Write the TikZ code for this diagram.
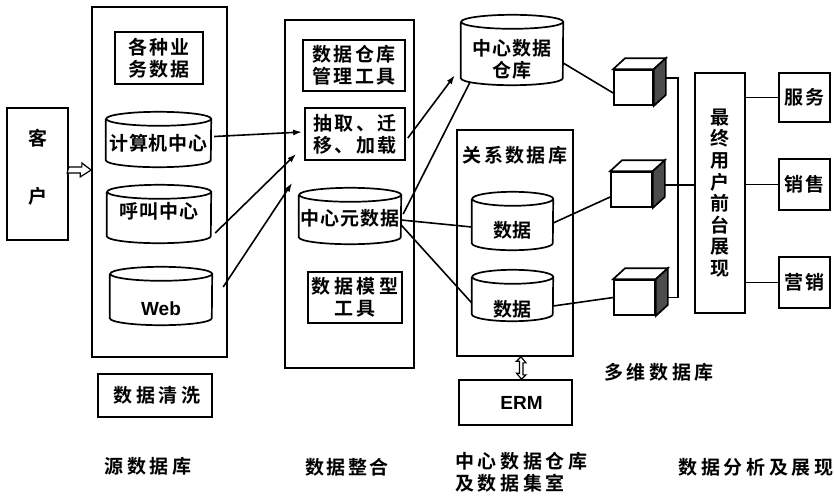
\documentclass[tikz,border=0pt]{standalone}
\usepackage{fontspec}
\newfontfamily\heiA{Noto Sans CJK SC Bold}[LetterSpace=5]
\newfontfamily\heiB{Noto Sans CJK SC Bold}[LetterSpace=13]
\newfontfamily\heiC{Noto Sans CJK SC Bold}[LetterSpace=19]
\newfontfamily\lat{Liberation Sans}
\usetikzlibrary{arrows.meta,calc}

\tikzset{
  every node/.style={font=\heiA\fontsize{19}{22}\selectfont, inner sep=0pt},
  wideA/.style={font=\heiA\fontsize{19}{22}\selectfont},
  wideB/.style={font=\heiB\fontsize{19}{22}\selectfont},
  wideC/.style={font=\heiC\fontsize{19}{22}\selectfont},
  frame/.style={draw, line width=1.7pt},
  box/.style={frame, align=center},
  conn/.style={line width=1.6pt},
  arr/.style={conn, -{Latex[length=9pt,width=6pt]}},
  blockarrow/.style={draw, line width=1.2pt, fill=white, line join=miter},
}

% database drawn as a cylinder: name, cx, cy, width, height, text, text y
\newcommand\dbcyl[7]{%
  \path (#2,#3) node[minimum width=#4pt, minimum height=#5pt] (#1) {};
  \draw[frame, fill=white] ([yshift=-7pt]#1.north west) -- ([yshift=7pt]#1.south west)
     arc[start angle=180, end angle=360, x radius=#4pt/2, y radius=7pt]
     -- ([yshift=-7pt]#1.north east)
     arc[start angle=0, end angle=360, x radius=#4pt/2, y radius=7pt];
  \node[align=center] (#1-t) at (#2,#7) {#6};
}

% multidimensional cube: name, cx, cy, width, height
\newcommand\mcube[5]{%
  \node[frame, fill=white, minimum width=#4pt, minimum height=#5pt] (#1) at (#2,#3) {};
  \draw[frame, fill=white] (#1.north west) -- ([shift={(12pt,11pt)}]#1.north west)
     -- ([shift={(12pt,11pt)}]#1.north east) -- (#1.north east) -- cycle;
  \draw[frame, fill=black!70] (#1.north east) -- ([shift={(12pt,11pt)}]#1.north east)
     -- ([shift={(12pt,11pt)}]#1.south east) -- (#1.south east) -- cycle;
}

\begin{document}
\begin{tikzpicture}[x=1pt,y=-1pt]
\useasboundingbox (0,0) rectangle (834,496);

% customer
\node[frame, minimum width=61pt, minimum height=132pt] (kh) at (37.5,174) {};
\node[align=center] (khT) at (38,167) {客\\[36pt]户};

% source databases
\node[frame, minimum width=135pt, minimum height=350pt] (src) at (159.5,182) {};
\node[box, wideB, minimum width=88pt, minimum height=52pt] (biz) at (159,58) {各种业\\务数据};
\dbcyl{cc}{158.5}{139.5}{105}{55}{计算机中心}{143}
\dbcyl{hj}{159}{214}{104}{58}{呼叫中心}{211}
\dbcyl{web}{161}{296}{102}{58}{{\lat\bfseries Web}}{309}
\node[box, wideC, minimum width=114pt, minimum height=43pt] (clean) at (155,395.5) {\hspace{4pt}数据清洗};

% data integration
\node[frame, minimum width=129pt, minimum height=348pt] (integ) at (349.5,194) {};
\node[box, wideB, minimum width=102pt, minimum height=51pt] (mgmt) at (354,65.5) {数据仓库\\管理工具};
\node[box, wideB, minimum width=100pt, minimum height=52pt] (etl) at (355,134) {抽取、迁\\移、加载};
\dbcyl{meta}{350}{216}{102}{56}{中心元数据}{218}
\node[box, wideC, minimum width=94pt, minimum height=51pt] (model) at (355,297.5) {数据模型\\工具};

% central warehouse and data marts
\dbcyl{dw}{512}{50}{102}{70}{中心数据\\仓库}{59.5}
\node[frame, minimum width=116pt, minimum height=226pt] (rdb) at (515,243) {};
\node[wideB] (rdbT) at (515,155) {关系数据库};
\dbcyl{d1}{512.5}{221}{81}{58}{数据}{230}
\dbcyl{d2}{512.5}{295.5}{81}{51}{数据}{309}
\node[box, minimum width=113pt, minimum height=45pt] (erm) at (515.5,402.5) {\hspace{12pt}{\lat\bfseries ERM}};

% multidimensional databases
\mcube{c1}{633.5}{87.5}{39}{35}
\mcube{c2}{631.5}{189.5}{41}{35}
\mcube{c3}{634.5}{297.5}{41}{35}

% front end and applications
\node[box, minimum width=50pt, minimum height=240pt, font=\heiA\fontsize{19}{21.6}\selectfont] (fe) at (720,193) {最\\终\\用\\户\\前\\台\\展\\现};
\node[box, wideB, minimum width=51pt, minimum height=49pt] (sv) at (804.5,97.5) {服务};
\node[box, wideB, minimum width=51pt, minimum height=51pt] (xs) at (804.5,184.5) {销售};
\node[box, wideB, minimum width=51pt, minimum height=51pt] (yx) at (804.5,282.5) {营销};

% block arrows
\coordinate (ka) at ([yshift=4pt]kh.east);
\draw[blockarrow] (ka) ++(0pt,3pt) -- ++(13pt,0pt) -- ++(0pt,4pt) -- (ka -| src.west)
   -- ++(-11pt,-7pt) -- ++(0pt,4pt) -- ++(-13pt,0pt) -- cycle;
\coordinate (et) at ([xshift=6pt]rdb.south);
\draw[blockarrow] (et) -- ++(5pt,-6pt) -- ++(-3pt,0pt) -- ++(0pt,-12pt) -- ++(3pt,0pt)
   -- ([xshift=6pt]erm.north) -- ++(-5pt,6pt) -- ++(3pt,0pt) -- ++(0pt,12pt)
   -- ++(-3pt,0pt) -- cycle;

% connectors
\draw[arr] ([shift={(3pt,3pt)}]cc.east) -- ([shift={(-2pt,2pt)}]etl.west);
\draw[arr] ([shift={(4pt,-19pt)}]hj.east) -- ([shift={(-8pt,7pt)}]etl.south west);
\draw[arr] ([shift={(11pt,9pt)}]web.east) -- ([shift={(-12pt,-22pt)}]etl.south west);
\draw[arr] ([shift={(2pt,-4pt)}]etl.east) -- ([shift={(-6pt,10pt)}]dw.south west);

\draw[conn] ([shift={(2pt,2pt)}]meta.east) -- ([shift={(-42pt,3pt)}]dw.south);
\draw[conn] ([yshift=-4pt]meta.east) -- ([yshift=-6pt]d1.west);
\draw[conn] ([yshift=-9pt]meta.east) -- ([yshift=-7.5pt]d2.west);

\draw[conn] ([yshift=-13pt]dw.east) -- ([yshift=-5.5pt]c1.west);
\draw[conn] ([yshift=-2pt]d1.east) -- ([yshift=-7.5pt]c2.west);
\draw[conn] ([yshift=-10.5pt]d2.east) -- (c3.west);

\coordinate (bus) at (678,190);
\draw[conn] ([shift={(12pt,9.5pt)}]c1.east) -| (bus) |- ([xshift=12pt]c3.east);
\draw[conn] ([shift={(12pt,4.5pt)}]c2.east) coordinate (c2o) -- (c2o -| fe.west);

\draw[conn] (fe.east |- sv.west) -- (sv.west);
\draw[conn] (fe.east |- xs.west) -- (xs.west);
\draw[conn] (fe.east |- yx.west) -- (yx.west);

% column captions
\node[wideC] (capA) at (148,466) {源数据库};
\node[wideB] (capB) at (347,467) {数据整合};
\node[wideC, anchor=west, align=left] (capC) at (455,472.5) {中心数据仓库\\及数据集室};
\node[wideC] (capD) at (659,372) {多维数据库};
\node[wideC] (capE) at (756,467) {数据分析及展现};
\end{tikzpicture}
\end{document}
